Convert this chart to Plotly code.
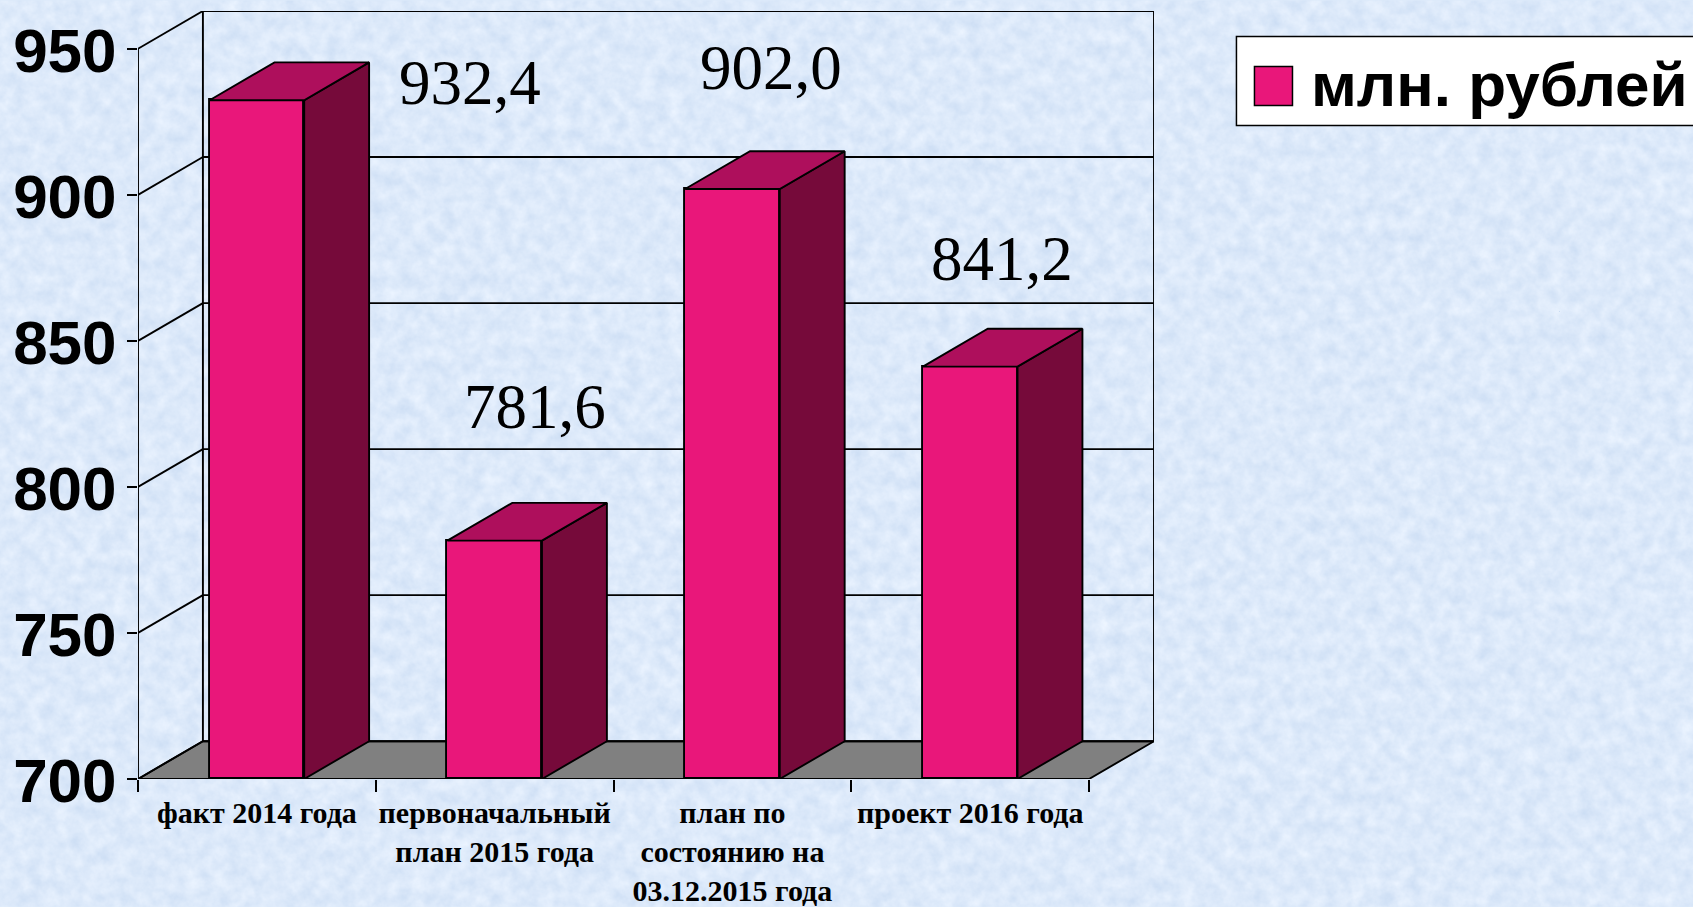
import base64
import plotly.graph_objects as go

categories = ["факт 2014 года", "первоначальный<br>план 2015 года",
              "план по<br>состоянию на<br>03.12.2015 года", "проект 2016 года"]
values = [932.4, 781.6, 902.0, 841.2]
y_ticks = [700, 750, 800, 850, 900, 950]
series_name = "млн. рублей"

W, H = 1693, 907
L, R, T, B = 138.2, 1153.6, 10.5, 779.2
DX, DY = 0.273, 12.94
BAR_W = 0.398
LW = 1.9
FRONT, TOP, SIDE, FLOOR = "#E9177A", "#AE0F5C", "#760A3A", "#808080"
BG = "#DCEAFA"
label_shift = [(213, 17), (40, 134), (39, 121), (32, 108)]

# decorative paper texture for the page background
texture_svg = f"""<svg xmlns='http://www.w3.org/2000/svg' width='{W}' height='{H}'>
<filter id='p' x='0' y='0' width='100%' height='100%' color-interpolation-filters='sRGB'>
<feTurbulence type='fractalNoise' baseFrequency='0.07' numOctaves='4' seed='7' stitchTiles='stitch'/>
<feColorMatrix type='matrix' values='0.14 0 0 0 0.795  0.10 0 0 0 0.865  0.05 0 0 0 0.955  0 0 0 0 1'/>
</filter>
<rect width='{W}' height='{H}' filter='url(#p)'/></svg>"""
texture_uri = "data:image/svg+xml;base64," + base64.b64encode(texture_svg.encode()).decode()

n = len(values)
y0 = y_ticks[0]
y1 = y_ticks[-1]
centers = [i + 0.5 for i in range(n)]
line = dict(color="black", width=LW)

shapes = []
# floor
shapes.append(dict(type="path", layer="below", xref="x", yref="y",
                   path=f"M0,{y0} L{n},{y0} L{n+DX},{y0+DY} L{DX},{y0+DY} Z",
                   fillcolor=FLOOR, line=dict(color="black", width=LW)))
# gridlines: side wall and back wall
for v in y_ticks:
    shapes.append(dict(type="line", layer="below", xref="x", yref="y",
                       x0=0, y0=v, x1=DX, y1=v + DY, line=line))
    shapes.append(dict(type="line", layer="below", xref="x", yref="y",
                       x0=DX, y0=v + DY, x1=n + DX, y1=v + DY, line=line))

fig = go.Figure()
fig.add_trace(go.Bar(x=centers, y=[v - y0 for v in values], base=y0, width=BAR_W,
                     name=series_name, marker=dict(color=FRONT, line=line), showlegend=False))

for c, v in zip(centers, values):
    a, b = c - BAR_W / 2, c + BAR_W / 2
    fig.add_trace(go.Scatter(x=[b, b + DX, b + DX, b, b], y=[y0, y0 + DY, v + DY, v, y0],
                             mode="lines", fill="toself", fillcolor=SIDE, line=line,
                             cliponaxis=False, showlegend=False, hoverinfo="skip"))
    fig.add_trace(go.Scatter(x=[a, a + DX, b + DX, b, a], y=[v, v + DY, v + DY, v, v],
                             mode="lines", fill="toself", fillcolor=TOP, line=line,
                             cliponaxis=False, showlegend=False, hoverinfo="skip"))

# wall outline and front axis lines
fig.add_trace(go.Scatter(x=[DX, DX, n + DX, n + DX], y=[y0 + DY, y1 + DY, y1 + DY, y0 + DY],
                         mode="lines", line=line, cliponaxis=False, showlegend=False, hoverinfo="skip"))
fig.add_trace(go.Scatter(x=[0, 0, n], y=[y1, y0, y0], mode="lines", line=line,
                         cliponaxis=False, showlegend=False, hoverinfo="skip"))

annotations = []
for c, v, (sx, sy) in zip(centers, values, label_shift):
    annotations.append(dict(x=c, y=v, xref="x", yref="y", xshift=sx, yshift=sy,
                            text=f"{v:.1f}".replace(".", ","), showarrow=False,
                            font=dict(family="Liberation Serif", size=63, color="black")))


def px(x):
    return (x - L) / (R - L)


def py(y):
    return (B - y) / (B - T)


# legend box, swatch and text
shapes.append(dict(type="rect", xref="paper", yref="paper", x0=px(1236), x1=px(1720), y0=py(125), y1=py(36),
                   fillcolor="white", line=dict(color="black", width=1.5)))
shapes.append(dict(type="rect", xref="paper", yref="paper", x0=px(1254), x1=px(1292), y0=py(105), y1=py(66),
                   fillcolor=FRONT, line=dict(color="black", width=1.5)))
annotations.append(dict(x=px(1309), y=py(84), xref="paper", yref="paper", xanchor="left", yanchor="middle",
                        text=series_name, showarrow=False,
                        font=dict(family="Liberation Sans", size=62, weight=700, color="black")))

fig.update_layout(
    width=W, height=H, autosize=False,
    margin=dict(l=L, r=W - R, t=T, b=H - B, pad=0),
    paper_bgcolor=BG, plot_bgcolor="rgba(0,0,0,0)",
    showlegend=False, bargap=0,
    shapes=shapes, annotations=annotations,
    images=[dict(source=texture_uri, xref="paper", yref="paper", x=px(0), y=py(0), sizex=W / (R - L),
                 sizey=H / (B - T), xanchor="left", yanchor="top", sizing="stretch", layer="below")],
    xaxis=dict(range=[0, n + DX], tickmode="array", tickvals=centers, ticktext=categories,
               ticks="", showgrid=False, zeroline=False, showline=False, automargin=False,
               tickangle=0, ticklabelstandoff=13,
               tickfont=dict(family="Liberation Serif", size=30, weight=700, color="black"),
               minor=dict(tickmode="array", tickvals=list(range(n + 1)), ticks="outside", ticklen=12,
                          tickwidth=1.5, tickcolor="black", showgrid=False)),
    yaxis=dict(range=[y0, y1 + DY], tickmode="array", tickvals=y_ticks, ticks="outside", ticklen=10,
               tickwidth=1.5, tickcolor="black", showgrid=False, zeroline=False, showline=False,
               automargin=False, ticklabelstandoff=-2, ticklabelshift=1,
               tickfont=dict(family="Liberation Sans", size=62, weight=700, color="black")),
)

fig.write_html("out.html", config=dict(displayModeBar=False),
               post_script="document.body.style.margin='0';document.body.style.overflow='hidden';")
